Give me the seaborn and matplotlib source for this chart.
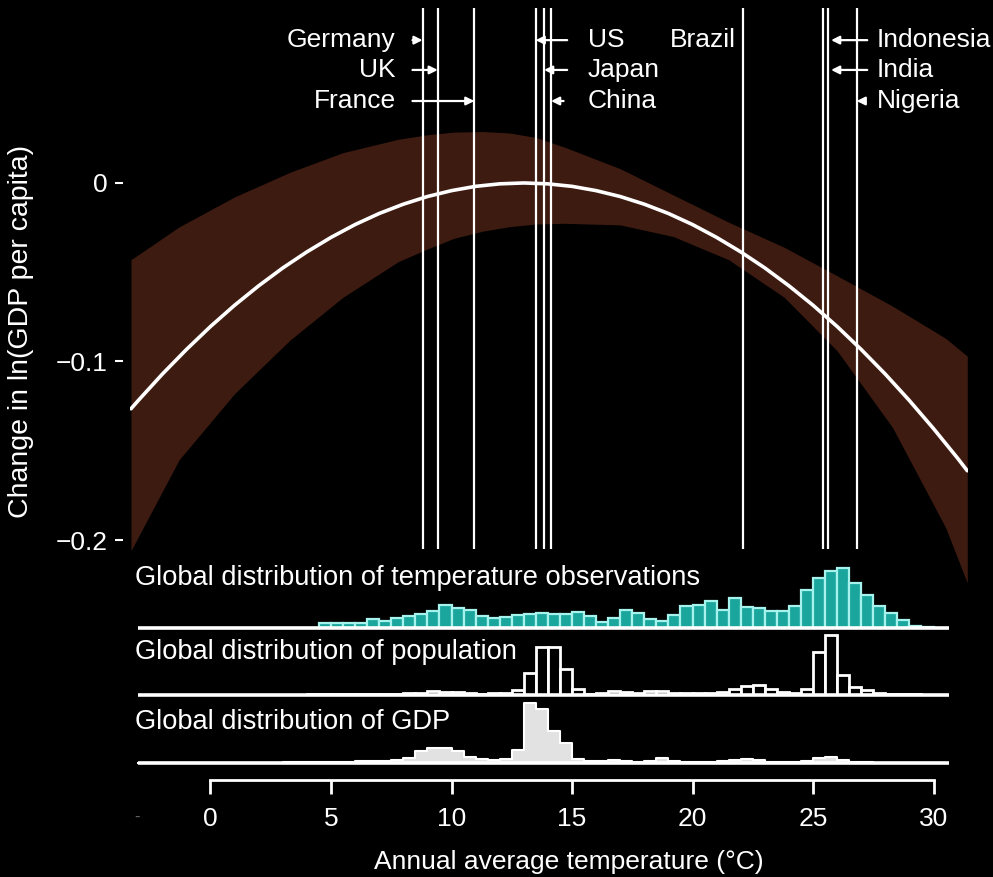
import numpy as np
import pandas as pd
import matplotlib
matplotlib.use("Agg")
import matplotlib.pyplot as plt
import seaborn as sns

# ---------------- data ----------------
# fitted response curve
curve_t = [-3.3, -3, -2, -1, 0, 1, 2, 3, 4, 5, 6, 7, 8, 9, 10, 11, 12, 13, 14, 15,
           16, 17, 18, 19, 20, 21, 22, 23, 24, 25, 26, 27, 28, 29, 30, 31, 31.4]
curve_y = [-0.1265, -0.1219, -0.1071, -0.0933, -0.0804, -0.0685, -0.0576, -0.0476,
           -0.0386, -0.0305, -0.0233, -0.0171, -0.0119, -0.0076, -0.0043, -0.0019,
           -0.0005, 0.0, -0.0005, -0.0019, -0.0043, -0.0076, -0.0119, -0.0171,
           -0.0233, -0.0305, -0.0386, -0.0476, -0.0576, -0.0685, -0.0804, -0.0933,
           -0.1071, -0.1219, -0.1376, -0.1542, -0.1612]

# confidence band
band_t = [-3.3, -1.3, 1.0, 3.3, 5.5, 7.8, 9.0, 10.1, 11.3, 12.4, 13.5, 14.7, 17.0,
          19.2, 21.5, 23.8, 26.0, 28.3, 30.5, 31.4]
band_hi = [-0.043, -0.0246, -0.0078, 0.006, 0.017, 0.0245, 0.0270, 0.0285, 0.0288,
           0.0280, 0.0255, 0.020, 0.008, -0.0067, -0.022, -0.036, -0.052, -0.069,
           -0.087, -0.097]
band_lo = [-0.206, -0.155, -0.118, -0.088, -0.064, -0.044, -0.037, -0.031, -0.027,
           -0.0245, -0.023, -0.0226, -0.0235, -0.030, -0.043, -0.064, -0.094, -0.137,
           -0.193, -0.224]

# countries and their average temperatures
countries = ["Germany", "UK", "France", "US", "Japan", "China",
             "Brazil", "Indonesia", "India", "Nigeria"]
country_temp = [8.80, 9.43, 10.95, 13.49, 13.84, 14.13, 22.11, 25.43, 25.63, 26.81]

# histogram bins (0.5 °C) starting at -3.0
bin_start = -3.0
bin_width = 0.5
temp_obs = [0] * 15 + [
    5, 5, 5, 5, 9, 7, 10, 12, 14, 17, 23, 20, 18, 12, 10, 11, 13, 14, 15, 14,
    14, 16, 12, 6, 10, 18, 15, 9, 7, 13, 22, 23, 27, 18, 30, 21, 20, 17, 17, 22,
    38, 50, 57, 60, 45, 33, 22, 15, 8, 2, 1, 0]
population = [0, 0, 0, 0, 0, 0, 0, 0, 0.5, 0.5, 0.5, 0.5, 0.5, 0.5,
              1, 1, 1, 1.5, 1.5, 1.5, 1.5, 1.5, 2, 2,
              4, 3, 3, 2, 1.5, 2, 2, 5,
              22, 48, 48, 26, 6, 1.5, 2, 4,
              3, 2, 4, 4, 2, 2, 2, 2.5,
              3, 6, 9, 10, 6, 3, 2, 6,
              43, 60, 20, 8, 5, 2, 1.5, 1.5,
              1, 0.5, 0]
gdp = [0, 0, 0, 0, 0, 0, 0.5, 0.5, 0.5, 0.5, 0.5, 0.5,
       1, 1, 1, 1.5, 1.5, 1.5, 2, 2,
       2.5, 3, 5, 12, 15, 15, 12, 6,
       4, 3, 4, 13, 60, 54, 32, 20,
       4, 2, 2, 3, 2, 1.5, 2, 5,
       2, 1.5, 1.5, 1.5, 2, 3, 4, 3,
       1.5, 1.5, 1.5, 2, 5, 6, 3, 1.5,
       1, 0.5, 0.5, 0.5, 0.5, 0.5, 0.5]

hist_titles = ["Global distribution of temperature observations",
               "Global distribution of population",
               "Global distribution of GDP"]
x_ticks = [0, 5, 10, 15, 20, 25, 30]
y_ticks = [0, -0.1, -0.2]
y_ticklabels = ["0", "\u22120.1", "\u22120.2"]

# ---------------- style ----------------
sns.set_theme(style="dark", rc={"axes.facecolor": "black", "figure.facecolor": "black",
                                "text.color": "white", "axes.labelcolor": "white",
                                "xtick.color": "white", "ytick.color": "white"})
plt.rcParams["font.family"] = ["Liberation Sans", "DejaVu Sans"]
FS = 19

W, H = 993, 877
fig = plt.figure(figsize=(W / 100, H / 100), dpi=100)
fig.patch.set_facecolor("black")

def fx(px):
    return px / W

def fy(py):
    return 1 - py / H

XL = (-3.34, 31.43)
AX_L, AX_R = 130, 968

# ---------------- main panel ----------------
ax = fig.add_axes([fx(AX_L), fy(585), fx(AX_R - AX_L), (585 - 8) / H])
ax.set_facecolor("none")
for s in ax.spines.values():
    s.set_visible(False)
ax.spines["left"].set_position(("outward", 5))
ax.fill_between(band_t, band_lo, band_hi, color="#3d1b11", lw=0, zorder=1)
ax.vlines(country_temp, -0.205, 0.098, color="white", lw=1.6, zorder=2)
sns.lineplot(x=curve_t, y=curve_y, ax=ax, color="white", lw=2.6, zorder=3)
ax.set_xlim(*XL)
ax.set_ylim(-0.2252, 0.098)
ax.set_xticks([])
ax.set_yticks(y_ticks)
ax.set_yticklabels(y_ticklabels)
ax.tick_params(axis="y", direction="out", length=6, width=1.5, pad=5, left=True,
               labelsize=FS, colors="white")
ax.set_ylabel("Change in ln(GDP per capita)", fontsize=20.5)
ax.yaxis.set_label_coords(-0.114, 0.44)
ax.grid(False)

# country labels and arrows
rows = [0.0800, 0.0633, 0.0459]
layout = {
    "Germany": (0, "L"), "UK": (1, "L"), "France": (2, "L"),
    "US": (0, "R"), "Japan": (1, "R"), "China": (2, "R"),
    "Brazil": (0, "B"),
    "Indonesia": (0, "I"), "India": (1, "I"), "Nigeria": (2, "I"),
}
groups = {  # text x, text align, arrow tail x
    "L": (7.68, "right", 8.38),
    "R": (15.65, "left", 14.8),
    "B": (21.8, "right", None),
    "I": (27.65, "left", 27.25),
}
tails = {"China": 14.65, "Nigeria": 27.05}
arrow_tip = {"Indonesia": 25.75, "India": 25.75}
for name, t in zip(countries, country_temp):
    r, g = layout[name]
    tx, ha, tail = groups[g]
    y = rows[r]
    ax.text(tx, y, name, ha=ha, va="center", fontsize=FS, color="white", zorder=5)
    if tail is not None:
        tail = tails.get(name, tail)
        tip = arrow_tip.get(name, t)
        ax.annotate("", xy=(tip, y), xytext=(tail, y),
                    arrowprops=dict(arrowstyle="-|>,head_length=0.4,head_width=0.2",
                                    color="white", lw=1.6, shrinkA=0, shrinkB=0),
                    zorder=5)

# ---------------- histograms ----------------
edges = [bin_start + bin_width * i for i in range(len(temp_obs) + 1)]
centers = [(a + b) / 2 for a, b in zip(edges[:-1], edges[1:])]
hist_specs = [
    (temp_obs, 628, dict(element="bars", color="#1aa59d", edgecolor="#a6f3ee", linewidth=1.6)),
    (population, 695, dict(element="bars", color="black", edgecolor="white", linewidth=2.0)),
    (gdp, 763, dict(element="step", color="#e2e2e2", edgecolor="white", linewidth=1.5)),
]
hist_axes = []
for (vals, base, kw), title, ty in zip(hist_specs, hist_titles, [578, 652, 722]):
    hax = fig.add_axes([fx(AX_L), fy(base), fx(AX_R - AX_L), 70 / H])
    hax.set_facecolor("none")
    df = pd.DataFrame({"t": centers, "w": vals})
    sns.histplot(data=df, x="t", weights="w", bins=edges, ax=hax, fill=True, alpha=1, **kw)
    hax.plot([edges[0], edges[-1] + 0.15], [0, 0], color="white", lw=2.6,
             solid_capstyle="butt", clip_on=False, zorder=4)
    hax.set_xlim(*XL)
    hax.set_ylim(0, 70)
    hax.set_ylabel("")
    hax.set_xlabel("")
    hax.set_yticks([])
    hax.grid(False)
    for s in hax.spines.values():
        s.set_visible(False)
    hax.set_xticks([])
    fig.text(fx(135), fy(ty), title, ha="left", va="center", fontsize=19.6, color="white")
    hist_axes.append(hax)

# x axis on the last histogram panel
xa = hist_axes[-1]
xa.spines["bottom"].set_visible(True)
xa.spines["bottom"].set_color("white")
xa.spines["bottom"].set_linewidth(2)
xa.spines["bottom"].set_position(("outward", 12.5))
xa.spines["bottom"].set_bounds(x_ticks[0], x_ticks[-1])
xa.set_xticks(x_ticks)
xa.set_xticklabels([str(v) for v in x_ticks])
xa.tick_params(axis="x", direction="out", length=10, width=2, pad=9, bottom=True,
               labelsize=FS, colors="white")
xa.set_xlabel("Annual average temperature (\u00b0C)", fontsize=FS)
xa.xaxis.set_label_coords(0.524, -1.25)
fig.text(fx(137), fy(817), "-", ha="center", va="center", fontsize=12, color="#666666")

fig.savefig("out.png", dpi=100, facecolor="black")
